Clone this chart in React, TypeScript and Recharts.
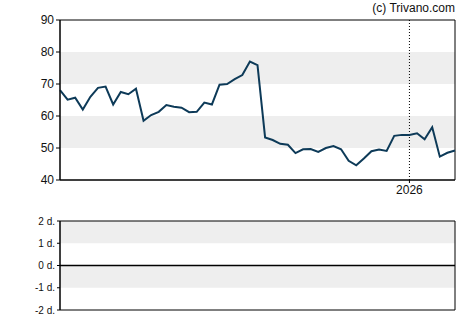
import { LineChart, Line, XAxis, YAxis, ReferenceArea, ReferenceLine } from "recharts"

const dates = [
  "2025-02-14", "2025-02-21", "2025-02-28", "2025-03-07", "2025-03-14", "2025-03-21",
  "2025-03-28", "2025-04-04", "2025-04-11", "2025-04-18", "2025-04-25", "2025-05-02",
  "2025-05-09", "2025-05-16", "2025-05-23", "2025-05-30", "2025-06-06", "2025-06-13",
  "2025-06-20", "2025-06-27", "2025-07-04", "2025-07-11", "2025-07-18", "2025-07-25",
  "2025-08-01", "2025-08-08", "2025-08-15", "2025-08-22", "2025-08-29", "2025-09-05",
  "2025-09-12", "2025-09-19", "2025-09-26", "2025-10-03", "2025-10-10", "2025-10-17",
  "2025-10-24", "2025-10-31", "2025-11-07", "2025-11-14", "2025-11-21", "2025-11-28",
  "2025-12-05", "2025-12-12", "2025-12-19", "2025-12-26", "2026-01-02", "2026-01-09",
  "2026-01-16", "2026-01-23", "2026-01-30", "2026-02-06", "2026-02-13",
]

const prices = [
  68.1, 65.1, 65.7, 62.0, 66.0, 68.8, 69.2, 63.6, 67.5, 66.8, 68.5, 58.5,
  60.3, 61.3, 63.4, 62.9, 62.6, 61.2, 61.3, 64.2, 63.6, 69.8, 70.0, 71.5,
  72.8, 77.0, 75.9, 53.3, 52.5, 51.3, 51.0, 48.4, 49.6, 49.7, 48.8, 50.0,
  50.6, 49.6, 46.0, 44.6, 46.7, 49.0, 49.5, 49.1, 53.8, 54.1, 54.1, 54.6,
  52.7, 56.5, 47.3, 48.5, 49.2,
]

const priceTicks = [40, 50, 60, 70, 80, 90]
const priceBands: [number, number][] = [[50, 60], [70, 80]]
const yearTick = "2026-01-02"
const yearLabel = "2026"

// lower panel has no values, only its frame
const lowerTicks = [-2, -1, 0, 1, 2]
const lowerBands: [number, number][] = [[1, 2], [-1, 0]]

const data = dates.map((date, i) => ({ date, price: prices[i], lower: null }))

const tickStyle = { fill: "#111", fontSize: 11, fontFamily: "Liberation Sans, Arial, sans-serif" }
const lineColor = "#0d3a58"

export default function App() {
  return (
    <div style={{ position: "absolute", left: 0, top: 0, width: 470, height: 325, background: "#fff" }}>
      <div
        style={{
          position: "absolute",
          right: 15,
          top: 1,
          fontSize: 12,
          fontFamily: "Liberation Sans, Arial, sans-serif",
          color: "#111",
        }}
      >
        (c) Trivano.com
      </div>
      <div style={{ position: "absolute", left: 0, top: 0 }}>
        <LineChart width={470} height={200} data={data} margin={{ top: 20, right: 15, left: 0, bottom: 0 }}>
          {priceBands.map(([a, b]) => (
            <ReferenceArea key={a} y1={a} y2={b} fill="#eeeeee" fillOpacity={1} stroke="none" />
          ))}
          <ReferenceLine x={yearTick} stroke="#000" strokeDasharray="1 2" />
          <XAxis
            dataKey="date"
            ticks={[yearTick]}
            tickFormatter={() => yearLabel}
            interval={0}
            tick={{ ...tickStyle, fontSize: 12 }}
            tickSize={3}
            tickLine={{ stroke: "#000" }}
            axisLine={{ stroke: "#000" }}
            height={20}
          />
          <YAxis
            domain={[40, 90]}
            ticks={priceTicks}
            interval={0}
            tick={{ ...tickStyle, fontSize: 12 }}
            tickSize={4}
            tickLine={{ stroke: "#000" }}
            axisLine={{ stroke: "#000" }}
            width={60}
          />
          <ReferenceArea y1={40} y2={90} fill="none" stroke="#000" strokeWidth={1} />
          <Line
            type="linear"
            dataKey="price"
            stroke={lineColor}
            strokeWidth={2}
            dot={false}
            isAnimationActive={false}
          />
        </LineChart>
      </div>
      <div style={{ position: "absolute", left: 0, top: 200 }}>
        <LineChart width={470} height={120} data={data} margin={{ top: 21, right: 15, left: 0, bottom: 10 }}>
          {lowerBands.map(([a, b]) => (
            <ReferenceArea key={a} y1={a} y2={b} fill="#eeeeee" fillOpacity={1} stroke="none" />
          ))}
          <ReferenceLine y={0} stroke="#000" strokeWidth={1.5} />
          <XAxis dataKey="date" hide />
          <YAxis
            domain={[-2, 2]}
            ticks={lowerTicks}
            interval={0}
            allowDataOverflow
            tickFormatter={(v: number) => `${v} d.`}
            tick={{ ...tickStyle, fontSize: 10 }}
            tickSize={3}
            tickLine={{ stroke: "#000" }}
            axisLine={{ stroke: "#000" }}
            width={60}
          />
          <ReferenceArea y1={-2} y2={2} fill="none" stroke="#000" strokeWidth={1} />
          <Line dataKey="lower" stroke="none" dot={false} isAnimationActive={false} />
        </LineChart>
      </div>
    </div>
  )
}
